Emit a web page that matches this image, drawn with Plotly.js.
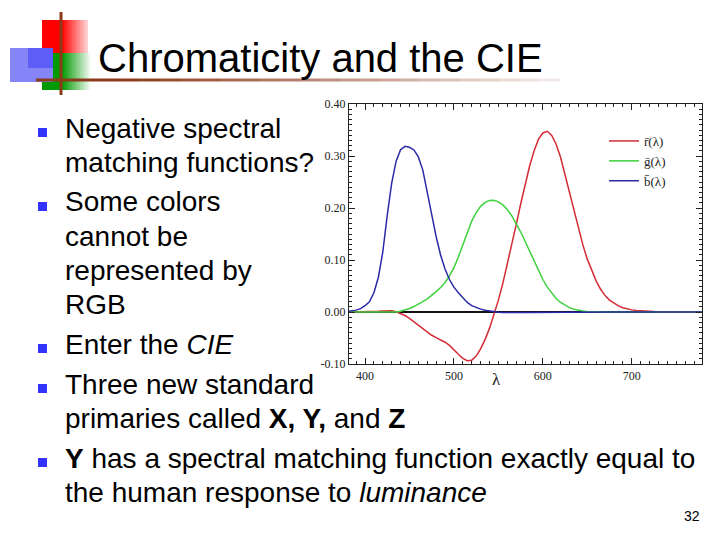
<!DOCTYPE html>
<html>
<head>
<meta charset="utf-8">
<script src="https://cdn.plot.ly/plotly-3.0.1.min.js"></script>
<style>html,body{margin:0;padding:0;background:#fff;}#chart{width:720px;height:540px;}</style>
</head>
<body>
<div id="chart"></div>
<script>
// ---- data (CIE RGB colour matching functions) ----
const wavelengths = [380,385,390,395,400,405,410,415,420,425,430,435,440,445,450,455,460,465,470,475,480,485,490,495,500,505,510,515,520,525,530,535,540,545,550,555,560,565,570,575,580,585,590,595,600,605,610,615,620,625,630,635,640,645,650,655,660,665,670,675,680,685,690,695,700,705,710,715,720,725,730,735,740,745,750,755,760,765,770,775,780];
const rBar = [0.00003,0.00005,0.00010,0.00017,0.00030,0.00047,0.00084,0.00139,0.00211,0.00266,0.00218,0.00036,-0.00261,-0.00673,-0.01213,-0.01874,-0.02608,-0.03324,-0.03933,-0.04471,-0.04939,-0.05364,-0.05814,-0.06414,-0.07173,-0.08120,-0.08901,-0.09356,-0.09264,-0.08473,-0.07101,-0.05316,-0.03152,-0.00613,0.02279,0.05514,0.09060,0.12840,0.16768,0.20715,0.24526,0.27989,0.30928,0.33184,0.34429,0.34756,0.33971,0.32265,0.29708,0.26348,0.22677,0.19233,0.15968,0.12905,0.10167,0.07857,0.05932,0.04366,0.03149,0.02294,0.01687,0.01187,0.00819,0.00572,0.00410,0.00291,0.00210,0.00148,0.00105,0.00074,0.00052,0.00036,0.00025,0.00017,0.00012,0.00008,0.00006,0.00004,0.00003,0.00001,0];
const gBar = [-0.00001,-0.00002,-0.00004,-0.00007,-0.00014,-0.00022,-0.00041,-0.00070,-0.00110,-0.00143,-0.00119,-0.00021,0.00149,0.00379,0.00678,0.01046,0.01485,0.01977,0.02538,0.03183,0.03914,0.04713,0.05689,0.06948,0.08536,0.10593,0.12860,0.15262,0.17468,0.19113,0.20317,0.21083,0.21466,0.21487,0.21178,0.20588,0.19702,0.18522,0.17087,0.15429,0.13610,0.11686,0.09754,0.07909,0.06246,0.04776,0.03557,0.02583,0.01828,0.01253,0.00833,0.00537,0.00334,0.00199,0.00116,0.00066,0.00037,0.00021,0.00011,0.00006,0.00003,0.00001,0,0,0,0,0,0,0,0,0,0,0,0,0,0,0,0,0,0,0];
const bBar = [0.00117,0.00189,0.00359,0.00647,0.01214,0.01969,0.03707,0.06637,0.11541,0.18575,0.24769,0.29012,0.31228,0.31860,0.31670,0.31166,0.29821,0.27295,0.22991,0.18592,0.14494,0.10968,0.08257,0.06246,0.04776,0.03688,0.02698,0.01842,0.01221,0.00830,0.00549,0.00320,0.00146,0.00023,-0.00058,-0.00105,-0.00130,-0.00138,-0.00135,-0.00123,-0.00108,-0.00093,-0.00079,-0.00063,-0.00049,-0.00038,-0.00030,-0.00022,-0.00015,-0.00011,-0.00008,-0.00005,-0.00003,-0.00002,-0.00001,-0.00001,0,0,0,0,0,0,0,0,0,0,0,0,0,0,0,0,0,0,0,0,0,0,0,0,0];
const seriesNames = ["r\u0304(\u03bb)", "g\u0304(\u03bb)", "b\u0304(\u03bb)"];
const xTickVals = [400, 500, 600, 700];
const xTickText = ["400", "500", "600", "700"];
const yTickVals = [-0.10, 0.00, 0.10, 0.20, 0.30, 0.40];
const yTickText = ["-0.10", "0.00", "0.10", "0.20", "0.30", "0.40"];
const xAxisLabel = "\u03bb";

// ---- slide text ----
const slideTitle = "Chromaticity and the CIE";
const slideLines = [
  "Negative spectral",
  "matching functions?",
  "Some colors",
  "cannot be",
  "represented by",
  "RGB",
  "Enter the <i>CIE</i>",
  "Three new standard",
  "primaries called <b>X, Y,</b> and <b>Z</b>",
  "<b>Y</b> has a spectral matching function exactly equal to",
  "the human response to <i>luminance</i>"
];
const lineParagraph = [0,0,1,1,1,1,2,3,3,4,4];
const lineHasBullet = [true,false,true,false,false,false,true,true,false,true,false];
const pageNumber = "32";

// ---- helpers (pixel -> paper) ----
const W = 720, H = 540;
const px = x => x / W;
const py = y => 1 - y / H;

const SERIF = "Liberation Serif, Times New Roman, Times, serif";
const SANS = "Liberation Sans, Arial, sans-serif";

const colors = ["#d42b35", "#3fd23f", "#2a2aa6"];
const traces = [rBar, gBar, bBar].map((vals, i) => ({
  type: "scatter", mode: "lines",
  x: wavelengths, y: vals, name: seriesNames[i],
  line: { color: colors[i], width: 1.5 },
  hoverinfo: "skip"
}));

const annotations = [];
const shapes = [];

// Decorative logo
shapes.push({type:"rect", xref:"paper", yref:"paper", x0:px(42), x1:px(62), y0:py(53), y1:py(20), fillcolor:"#ff0000", line:{width:0}});
for (let k = 0; k < 13; k++) {
  const a = 1 - (k + 0.5) / 13 * 0.85;
  shapes.push({type:"rect", xref:"paper", yref:"paper", x0:px(62 + k*2), x1:px(64 + k*2), y0:py(53), y1:py(20), fillcolor:"rgba(255,0,0," + a.toFixed(3) + ")", line:{width:0}});
}
shapes.push({type:"rect", xref:"paper", yref:"paper", x0:px(42), x1:px(62), y0:py(90), y1:py(53), fillcolor:"#009900", line:{width:0}});
for (let k = 0; k < 14; k++) {
  const a = 1 - (k + 0.5) / 14 * 0.95;
  shapes.push({type:"rect", xref:"paper", yref:"paper", x0:px(62 + k*2), x1:px(64 + k*2), y0:py(90), y1:py(53), fillcolor:"rgba(0,153,0," + a.toFixed(3) + ")", line:{width:0}});
}
shapes.push({type:"rect", xref:"paper", yref:"paper", x0:px(10), x1:px(53), y0:py(82), y1:py(48), fillcolor:"#8585f8", line:{width:0}});
shapes.push({type:"rect", xref:"paper", yref:"paper", x0:px(28), x1:px(53), y0:py(68), y1:py(48), fillcolor:"rgba(60,60,245,0.55)", line:{width:0}});
shapes.push({type:"line", xref:"paper", yref:"paper", x0:px(61), x1:px(61), y0:py(12), y1:py(95), line:{color:"#8b3a1a", width:3}});
shapes.push({type:"line", xref:"paper", yref:"paper", x0:px(36), x1:px(120), y0:py(80), y1:py(80), line:{color:"#8b3a1a", width:3}});
for (let k = 0; k < 22; k++) {
  const a = 1 - (k + 0.5) / 22 * 0.92;
  shapes.push({type:"line", xref:"paper", yref:"paper", x0:px(120 + k*20), x1:px(140 + k*20), y0:py(80), y1:py(80), line:{color:"rgba(139,58,26," + a.toFixed(3) + ")", width:3}});
}

// Title
annotations.push({xref:"paper", yref:"paper", x:px(97), y:py(58), xanchor:"left", yanchor:"middle", showarrow:false, borderpad:0,
  text: slideTitle, font:{family:SANS, size:40, color:"#000"}});

// Bullet text
slideLines.forEach((t, i) => {
  const base = 138 + 34 * i + 6 * lineParagraph[i];
  annotations.push({xref:"paper", yref:"paper", x:px(64), y:py(base - 10), xanchor:"left", yanchor:"middle", showarrow:false, borderpad:0,
    text: t, font:{family:SANS, size:28, color:"#000"}});
  if (lineHasBullet[i]) {
    shapes.push({type:"rect", xref:"paper", yref:"paper", x0:px(38), x1:px(47), y0:py(base - 1), y1:py(base - 10), fillcolor:"#3333ff", line:{width:0}});
  }
});

// page number
annotations.push({xref:"paper", yref:"paper", x:px(692), y:py(516), xanchor:"center", yanchor:"middle", showarrow:false, borderpad:0,
  text: pageNumber, font:{family:SANS, size:14, color:"#000"}});

// lambda axis label
annotations.push({xref:"x", yref:"paper", x:548, y:py(379), xanchor:"center", yanchor:"middle", showarrow:false, borderpad:0,
  text: xAxisLabel, font:{family:SERIF, size:17, color:"#222"}});

const axisFont = {family:SERIF, size:12, color:"#222"};

const layout = {
  width: W, height: H,
  margin: {l:0, r:0, t:0, b:0},
  paper_bgcolor: "#fff", plot_bgcolor: "#fff",
  showlegend: true,
  legend: {x:px(604), y:py(126), xanchor:"left", yanchor:"top", bgcolor:"rgba(0,0,0,0)", borderwidth:0,
    font:{family:SERIF, size:13, color:"#222"}, tracegroupgap:0, itemwidth:30},
  xaxis: {
    domain:[px(349), px(702)], range:[382, 779], anchor:"y",
    showgrid:false, zeroline:false,
    showline:true, linecolor:"#222", linewidth:1.2, mirror:"allticks",
    ticks:"inside", ticklen:6, tickwidth:1, tickcolor:"#222",
    tickvals:xTickVals, ticktext:xTickText, tickfont:axisFont,
    minor:{ticks:"inside", dtick:10, tick0:0, ticklen:3, tickwidth:1, tickcolor:"#222", showgrid:false}
  },
  yaxis: {
    domain:[py(364), py(104)], range:[-0.10, 0.40], anchor:"x",
    showgrid:false, zeroline:true, zerolinecolor:"#111", zerolinewidth:2,
    showline:true, linecolor:"#222", linewidth:1.2, mirror:"allticks",
    ticks:"inside", ticklen:6, tickwidth:1, tickcolor:"#222",
    tickvals:yTickVals, ticktext:yTickText, tickfont:axisFont,
    minor:{ticks:"inside", dtick:0.01, tick0:0, ticklen:3, tickwidth:1, tickcolor:"#222", showgrid:false}
  },
  shapes: shapes,
  annotations: annotations
};

Plotly.newPlot("chart", traces, layout, {staticPlot:true, displayModeBar:false});
</script>
</body>
</html>
